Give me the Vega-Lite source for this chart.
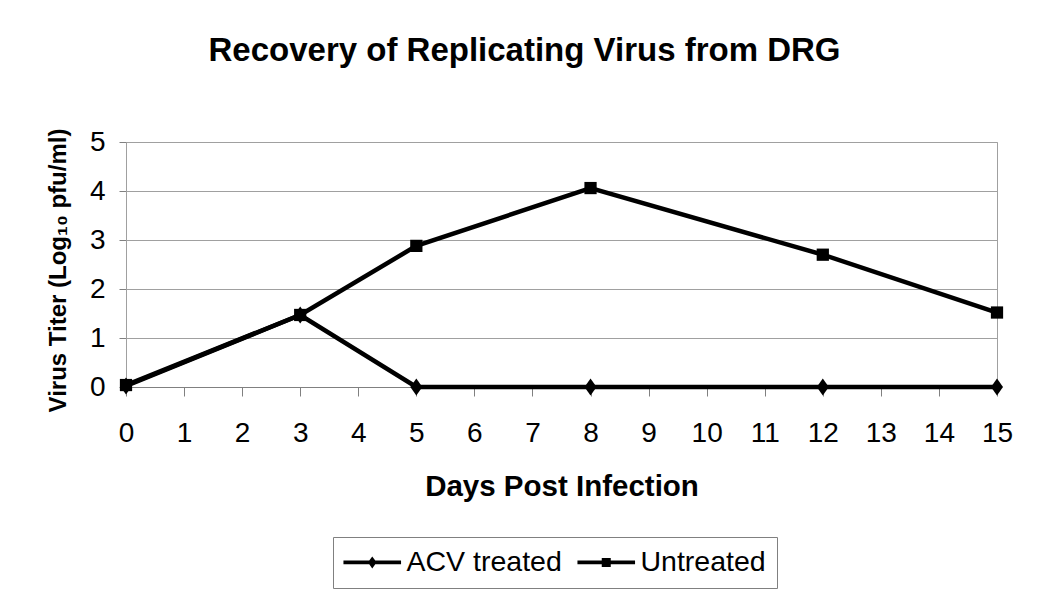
{
  "$schema": "https://vega.github.io/schema/vega-lite/v6.json",
  "autosize": "none",
  "width": 871,
  "height": 245,
  "padding": {"left": 126, "top": 142, "right": 53, "bottom": 225},
  "background": "white",
  "config": {
    "font": "Liberation Sans",
    "view": {"stroke": "#a0a0a0", "strokeWidth": 1}
  },
  "title": {
    "text": "Recovery of Replicating Virus from DRG",
    "fontSize": 33,
    "font": "Liberation Sans",
    "fontWeight": "bold",
    "color": "black",
    "anchor": "middle",
    "offset": 60,
    "dx": -37
  },
  "data": {
    "values": [
      {"day": 0, "titer": 0.02, "series": "ACV treated"},
      {"day": 3, "titer": 1.47, "series": "ACV treated"},
      {"day": 5, "titer": 0, "series": "ACV treated"},
      {"day": 8, "titer": 0, "series": "ACV treated"},
      {"day": 12, "titer": 0, "series": "ACV treated"},
      {"day": 15, "titer": 0, "series": "ACV treated"},
      {"day": 0, "titer": 0.04, "series": "Untreated"},
      {"day": 3, "titer": 1.47, "series": "Untreated"},
      {"day": 5, "titer": 2.88, "series": "Untreated"},
      {"day": 8, "titer": 4.06, "series": "Untreated"},
      {"day": 12, "titer": 2.7, "series": "Untreated"},
      {"day": 15, "titer": 1.52, "series": "Untreated"}
    ]
  },
  "encoding": {
    "x": {
      "field": "day",
      "type": "quantitative",
      "scale": {"domain": [0, 15], "nice": false, "zero": false},
      "axis": {
        "title": "Days Post Infection",
        "values": [0,1,2,3,4,5,6,7,8,9,10,11,12,13,14,15],
        "grid": false,
        "domainColor": "#808080",
        "tickColor": "#808080",
        "tickSize": 9,
        "labelFontSize": 28,
        "labelColor": "black",
        "labelPadding": 37,
        "labelBaseline": "middle",
        "labelFlush": false,
        "titleFontSize": 29.5,
        "titleFontWeight": "bold",
        "titleColor": "black",
        "titleBaseline": "middle",
        "titleY": 99
      }
    },
    "y": {
      "field": "titer",
      "type": "quantitative",
      "scale": {"domain": [0, 5], "nice": false},
      "axis": {
        "title": "Virus Titer (Log₁₀ pfu/ml)",
        "values": [0,1,2,3,4,5],
        "grid": true,
        "gridColor": "#a0a0a0",
        "domainColor": "#a0a0a0",
        "tickColor": "#808080",
        "tickSize": 7,
        "labelFontSize": 28,
        "labelColor": "black",
        "labelPadding": 14,
        "labelFlush": false,
        "titleFontSize": 24,
        "titleFontWeight": "bold",
        "titleColor": "black",
        "titleBaseline": "middle",
        "titleAlign": "center",
        "titleAngle": -90,
        "titleX": -68,
        "titleY": 128
      }
    }
  },
  "layer": [
    {
      "mark": {"type": "line", "color": "black", "strokeWidth": 4.5},
      "encoding": {"detail": {"field": "series", "type": "nominal"}}
    },
    {
      "transform": [{"filter": "datum.series === 'ACV treated'"}],
      "mark": {"type": "point", "shape": "M0,-1.2L0.85,0L0,1.2L-0.85,0Z", "filled": true, "color": "black", "opacity": 1, "size": 200}
    },
    {
      "transform": [{"filter": "datum.series === 'Untreated'"}],
      "mark": {"type": "point", "shape": "square", "filled": true, "color": "black", "opacity": 1, "size": 150}
    },
    {
      "mark": {"type": "point", "filled": true, "color": "black", "opacity": 0},
      "encoding": {
        "shape": {
          "field": "series",
          "type": "nominal",
          "scale": {
            "domain": ["ACV treated", "Untreated"],
            "range": [
              "M-4.8,-0.33L-0.5,-0.33L0,-1L0.5,-0.33L4.8,-0.33L4.8,0.33L0.5,0.33L0,1L-0.5,0.33L-4.8,0.33Z",
              "M-4.8,-0.33L-0.75,-0.33L-0.75,-0.75L0.75,-0.75L0.75,-0.33L4.8,-0.33L4.8,0.33L0.75,0.33L0.75,0.75L-0.75,0.75L-0.75,0.33L-4.8,0.33Z"
            ]
          },
          "legend": {
            "title": null,
            "orient": "none",
            "direction": "horizontal",
            "legendX": 207,
            "legendY": 395,
            "strokeColor": "#808080",
            "fillColor": "white",
            "padding": 11,
            "symbolSize": 144,
            "symbolOffset": 14,
            "labelOffset": 20,
            "labelFontSize": 28.5,
            "labelColor": "black",
            "labelFont": "Liberation Sans",
            "columnPadding": 15,
            "symbolStrokeWidth": 0,
            "encode": {
              "symbols": {"update": {"opacity": {"value": 1}, "fill": {"value": "black"}, "fillOpacity": {"value": 1}}}
            }
          }
        }
      }
    }
  ]
}
